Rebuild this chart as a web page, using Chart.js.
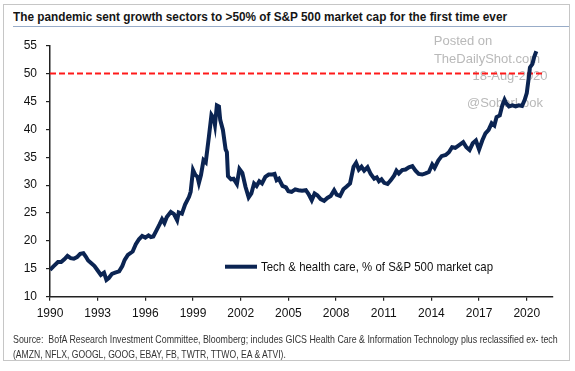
<!DOCTYPE html>
<html>
<head>
<meta charset="utf-8">
<script src="https://cdn.jsdelivr.net/npm/chart.js@4.4.1/dist/chart.umd.min.js"></script>
<style>
  html, body { margin: 0; padding: 0; background: #fff; }
  body { width: 575px; height: 371px; position: relative; overflow: hidden; }
  #frame { position: absolute; left: 3px; top: 4px; width: 567px; height: 357px; border: 1px solid #c6c6c6; box-sizing: border-box; }
  #title { position: absolute; left: 13px; top: 9px; font: bold 13.5px "Liberation Sans", Arial, sans-serif; color: #151515; white-space: nowrap; transform-origin: 0 0; }
  #rule { position: absolute; left: 13px; top: 26px; width: 556px; height: 1px; background: #98acc8; }
  .src { position: absolute; left: 13px; font: 10.5px "Liberation Sans", Arial, sans-serif; color: #333; white-space: pre; transform-origin: 0 0; }
  #src1 { top: 333px; }
  #src2 { top: 348px; }
  #wrap { position: absolute; left: 0; top: 0; width: 575px; height: 371px; }
</style>
</head>
<body>
<div id="frame"></div>
<div id="title">The pandemic sent growth sectors to &gt;50% of S&amp;P 500 market cap for the first time ever</div>
<div id="rule"></div>
<div id="wrap"><canvas id="chart"></canvas></div>
<div class="src" id="src1">Source:  BofA Research Investment Committee, Bloomberg; includes GICS Health Care &amp; Information Technology plus reclassified ex- tech</div>
<div class="src" id="src2">(AMZN, NFLX, GOOGL, GOOG, EBAY, FB, TWTR, TTWO, EA &amp; ATVI).</div>
<script>
// tech + health care share of S&P 500 market cap
const years = [
  1990.0, 1990.2, 1990.5, 1990.7, 1990.9, 1991.1, 1991.3, 1991.5, 1991.7, 1991.9,
  1992.1, 1992.25, 1992.4, 1992.6, 1992.8, 1993.0, 1993.2, 1993.4, 1993.55, 1993.7,
  1993.9, 1994.1, 1994.35, 1994.55, 1994.7, 1994.9, 1995.2, 1995.4, 1995.6, 1995.8,
  1996.0, 1996.2, 1996.35, 1996.5, 1996.7, 1996.9, 1997.05, 1997.2, 1997.35, 1997.6,
  1997.8, 1998.0, 1998.1, 1998.3, 1998.5, 1998.75, 1998.85, 1999.0, 1999.15, 1999.28,
  1999.37, 1999.5, 1999.66, 1999.8, 2000.0, 2000.16, 2000.3, 2000.38, 2000.5, 2000.63,
  2000.71, 2000.88, 2001.05, 2001.13, 2001.2, 2001.39, 2001.55, 2001.76, 2001.92, 2002.1,
  2002.3, 2002.5, 2002.67, 2002.84, 2003.0, 2003.17, 2003.34, 2003.55, 2003.76, 2004.0,
  2004.13, 2004.26, 2004.4, 2004.63, 2004.85, 2005.0, 2005.2, 2005.43, 2005.63, 2005.86,
  2006.1, 2006.27, 2006.47, 2006.65, 2006.82, 2007.03, 2007.25, 2007.45, 2007.66, 2007.88,
  2008.04, 2008.25, 2008.46, 2008.65, 2008.88, 2009.1, 2009.26, 2009.43, 2009.6, 2009.77,
  2009.98, 2010.18, 2010.4, 2010.56, 2010.7, 2010.86, 2011.03, 2011.24, 2011.45, 2011.66,
  2011.8, 2011.95, 2012.16, 2012.37, 2012.58, 2012.8, 2013.0, 2013.2, 2013.42, 2013.63,
  2013.84, 2014.05, 2014.2, 2014.43, 2014.64, 2014.9, 2015.1, 2015.3, 2015.5, 2015.7,
  2016.0, 2016.2, 2016.4, 2016.6, 2016.8, 2017.0, 2017.2, 2017.4, 2017.6, 2017.79,
  2017.96, 2018.1, 2018.3, 2018.46, 2018.6, 2018.7, 2018.88, 2019.1, 2019.3, 2019.5,
  2019.7, 2019.87, 2020.0, 2020.13, 2020.2, 2020.35, 2020.47, 2020.6
];
const share = [
  14.8, 15.4, 16.2, 16.2, 16.7, 17.3, 16.9, 16.8, 17.1, 17.7,
  17.8, 17.2, 16.5, 16.0, 15.5, 14.7, 13.9, 14.3, 13.0, 13.35,
  14.1, 14.3, 14.55, 15.5, 16.6, 17.5, 18.1, 19.4, 20.3, 20.9,
  20.6, 21.0, 20.7, 20.8, 21.9, 23.0, 23.9, 23.2, 24.3, 25.2,
  24.8, 23.7, 25.1, 24.9, 26.5, 27.9, 28.8, 32.7, 31.8, 31.5,
  30.4, 31.8, 34.5, 34.1, 38.7, 42.6, 42.0, 40.8, 44.3, 44.1,
  41.7, 39.9, 36.4, 35.9, 31.6, 31.05, 31.15, 30.2, 32.9, 32.2,
  29.7, 27.8, 28.5, 30.3, 29.85, 30.7, 30.3, 31.5, 31.9, 31.9,
  32.0, 30.9, 31.15, 29.85, 29.6, 28.9, 28.8, 29.25, 29.1, 29.0,
  29.1, 28.4, 27.3, 28.5, 28.2, 27.5, 27.2, 27.7, 28.05, 29.1,
  28.3, 28.05, 29.25, 29.7, 30.3, 33.3, 34.0, 32.8, 33.3, 32.6,
  33.2, 32.0, 31.15, 31.4, 30.7, 31.05, 30.4, 30.2, 30.9, 31.75,
  32.6, 32.1, 32.7, 32.8, 33.2, 33.4, 32.6, 32.0, 31.9, 32.1,
  32.35, 33.7, 33.1, 34.4, 35.2, 35.4, 35.9, 36.8, 36.7, 37.1,
  37.7, 36.8, 36.3, 37.5, 38.0, 36.4, 38.0, 39.3, 39.9, 41.1,
  40.7, 42.2, 42.5, 44.3, 45.3, 44.7, 44.1, 44.3, 44.1, 44.3,
  44.2, 45.3, 46.5, 49.4, 51.1, 51.7, 53.0, 54.0
];
const tickYears = [1990, 1993, 1996, 1999, 2002, 2005, 2008, 2011, 2014, 2017, 2020];
const refLevel = 50;
const refSpan = [1990, 2021];
const seriesLabel = 'Tech & health care, % of S&P 500 market cap';
const watermark = ['Posted on', 'TheDailyShot.com', '18-Aug-2020', '@SoberLook'];

// the original uses a narrow font; squeeze the html text to the same width
function fitWidth(id, w) {
  const el = document.getElementById(id);
  el.style.transform = 'scaleX(' + (w / el.offsetWidth) + ')';
}
fitWidth('title', 494);
fitWidth('src1', 545);
fitWidth('src2', 273);

const NAVY = '#0b2452';
const FONT = '"Liberation Sans", Arial, sans-serif';
Chart.defaults.font.family = FONT;
Chart.defaults.font.size = 12;
Chart.defaults.color = '#111';

// gray "posted on" stamp, under the line
const stampPlugin = {
  id: 'stamp',
  beforeDatasetsDraw(chart) {
    const ctx = chart.ctx;
    ctx.save();
    ctx.fillStyle = '#b9b9b9';
    ctx.font = '13px ' + FONT;
    ctx.textAlign = 'center';
    ctx.textBaseline = 'middle';
    ctx.fillText(watermark[0], 463, 41);
    ctx.fillText(watermark[1], 487, 59);
    ctx.fillText(watermark[2], 510, 76);
    ctx.fillText(watermark[3], 505, 103);
    ctx.restore();
  }
};

// legend sits inside the plot, bottom right
const insideLegend = {
  id: 'insideLegend',
  afterDatasetsDraw(chart) {
    const ctx = chart.ctx;
    const a = chart.chartArea;
    const y = a.bottom - 30;
    const x0 = a.left + 175;
    const label = chart.data.datasets[0].label;
    ctx.save();
    ctx.strokeStyle = NAVY;
    ctx.lineWidth = 4;
    ctx.beginPath();
    ctx.moveTo(x0, y);
    ctx.lineTo(x0 + 32, y);
    ctx.stroke();
    ctx.fillStyle = '#111';
    ctx.font = '13.5px ' + FONT;
    ctx.textBaseline = 'middle';
    const tx = x0 + 36;
    const sx = 232 / ctx.measureText(label).width;
    ctx.translate(tx, y + 1);
    ctx.scale(sx, 1);
    ctx.fillText(label, 0, 0);
    ctx.restore();
  }
};

new Chart(document.getElementById('chart'), {
  type: 'line',
  data: {
    datasets: [{
      label: seriesLabel,
      data: years.map((yr, i) => ({x: yr, y: share[i]})),
      borderColor: NAVY,
      borderWidth: 4,
      pointRadius: 0,
      tension: 0,
      fill: false,
      order: 1
    }, {
      label: '50%',
      data: refSpan.map(yr => ({x: yr, y: refLevel})),
      borderColor: '#ff1a1a',
      borderWidth: 2,
      borderDash: [6, 3],
      pointRadius: 0,
      fill: false,
      order: 2
    }]
  },
  options: {
    responsive: true,
    maintainAspectRatio: false,
    animation: false,
    layout: {padding: {left: 10, right: 22, top: 45.7, bottom: 44.3}},
    plugins: {
      legend: {display: false},
      tooltip: {enabled: false}
    },
    scales: {
      x: {
        type: 'linear',
        min: 1990,
        max: 2021.65,
        afterBuildTicks(scale) { scale.ticks = tickYears.map(v => ({value: v})); },
        afterFit(scale) { scale.height = 30; },
        ticks: {
          padding: 6,
          color: '#111',
          font: {size: 12},
          callback: v => String(v)
        },
        grid: {drawOnChartArea: false, drawTicks: true, tickLength: 4, color: '#222', lineWidth: 1.2},
        border: {display: true, color: '#222', width: 1.5}
      },
      y: {
        min: 10,
        max: 55,
        afterFit(scale) { scale.width = 40; },
        ticks: {stepSize: 5, padding: 9, color: '#111', font: {size: 12}},
        grid: {drawOnChartArea: false, drawTicks: true, tickLength: 4, color: '#222', lineWidth: 1.2},
        border: {display: true, color: '#222', width: 1.5}
      }
    }
  },
  plugins: [stampPlugin, insideLegend]
});
</script>
</body>
</html>
